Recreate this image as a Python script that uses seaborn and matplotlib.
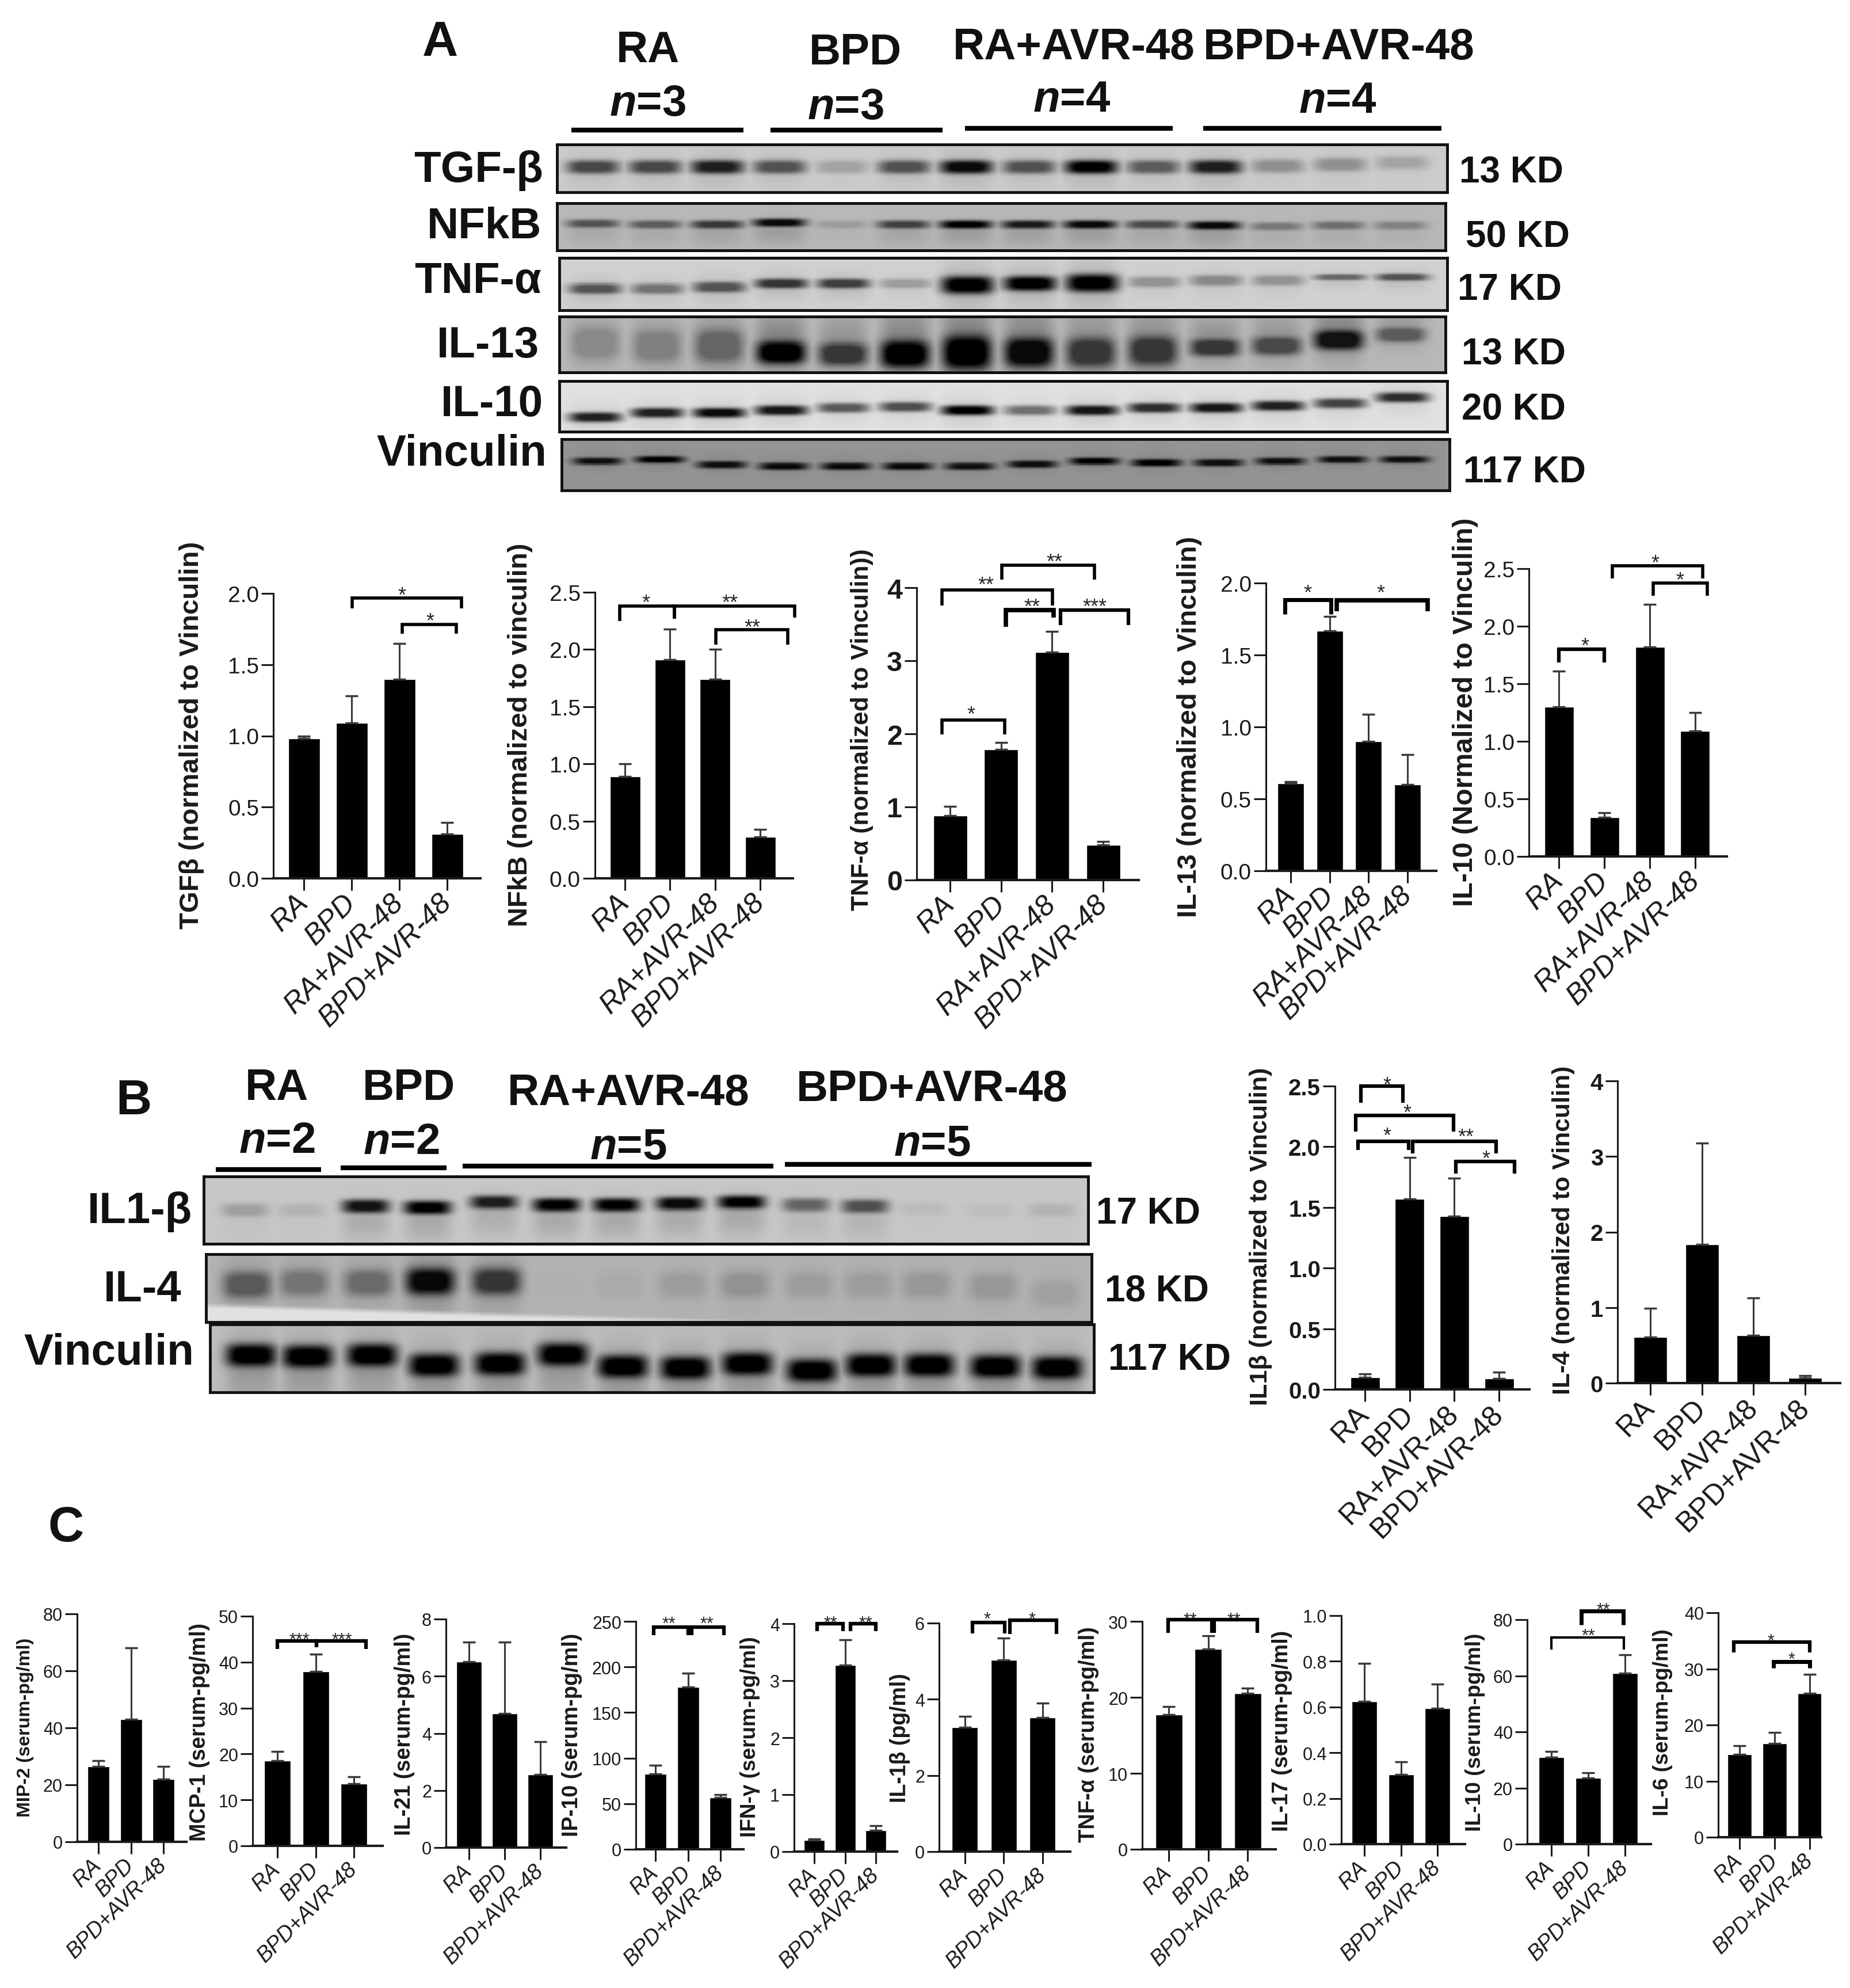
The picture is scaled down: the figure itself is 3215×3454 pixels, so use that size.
import numpy as np
import pandas as pd
import matplotlib
matplotlib.use('Agg')
import matplotlib.pyplot as plt
from matplotlib.transforms import Affine2D
import seaborn as sns

W, H = 3215, 3455

sns.set_style("white")
plt.rcParams['font.family'] = ['Liberation Sans', 'DejaVu Sans']
plt.rcParams['mathtext.fontset'] = 'custom'
plt.rcParams['mathtext.it'] = 'Liberation Sans:italic:bold'

# ---- bar chart data ----
GROUPS4 = ['RA', 'BPD', 'RA+AVR-48', 'BPD+AVR-48']
GROUPS3 = ['RA', 'BPD', 'BPD+AVR-48']

TGFB_MEAN = [0.98, 1.09, 1.40, 0.31]
TGFB_TOP = [1.00, 1.28, 1.65, 0.39]
NFKB_MEAN = [0.89, 1.91, 1.74, 0.36]
NFKB_TOP = [1.00, 2.18, 2.00, 0.43]
TNFA_MEAN = [0.88, 1.79, 3.12, 0.48]
TNFA_TOP = [1.01, 1.88, 3.40, 0.53]
IL13_MEAN = [0.61, 1.67, 0.90, 0.60]
IL13_TOP = [0.62, 1.77, 1.09, 0.81]
IL10_MEAN = [1.30, 0.34, 1.82, 1.09]
IL10_TOP = [1.61, 0.38, 2.19, 1.25]
IL1B_MEAN = [0.10, 1.57, 1.43, 0.09]
IL1B_TOP = [0.13, 1.91, 1.74, 0.14]
IL4_MEAN = [0.61, 1.84, 0.63, 0.07]
IL4_TOP = [0.99, 3.18, 1.13, 0.10]

MIP2_MEAN = [26.5, 43, 22]
MIP2_TOP = [28.5, 68, 26.5]
MCP1_MEAN = [18.5, 38, 13.5]
MCP1_TOP = [20.5, 41.7, 15]
IL21_MEAN = [6.5, 4.7, 2.55]
IL21_TOP = [7.2, 7.2, 3.7]
IP10_MEAN = [83, 178, 57]
IP10_TOP = [92, 193, 60]
IFNG_MEAN = [0.2, 3.27, 0.37]
IFNG_TOP = [0.22, 3.72, 0.45]
SIL1B_MEAN = [3.27, 5.03, 3.52]
SIL1B_TOP = [3.55, 5.6, 3.9]
STNF_MEAN = [17.7, 26.4, 20.5]
STNF_TOP = [18.8, 28.1, 21.2]
IL17_MEAN = [0.625, 0.305, 0.595]
IL17_TOP = [0.79, 0.36, 0.70]
SIL10_MEAN = [31, 23.5, 61]
SIL10_TOP = [33, 25.5, 67.5]
IL6_MEAN = [14.8, 16.7, 25.6]
IL6_TOP = [16.3, 18.7, 29]

# ---- blot band strengths and vertical band position per lane ----
A_TGF = [.65, .65, .85, .6, .2, .6, .95, .6, 1, .55, .85, .3, .3, .2]
A_TGF_Y = [.47, .47, .47, .47, .47, .47, .47, .47, .47, .47, .47, .45, .42, .38]
A_NFKB = [.55, .5, .7, .95, .15, .65, 1, .85, .95, .6, .95, .35, .4, .3]
A_NFKB_Y = [.43, .45, .45, .41, .45, .45, .45, .45, .45, .45, .47, .49, .47, .47]
A_TNF = [.6, .45, .6, .75, .7, .25, 1, 1, 1, .3, .35, .3, .5, .6]
A_TNF_Y = [.59, .59, .56, .49, .49, .49, .52, .49, .48, .46, .43, .43, .37, .37]
A_TNF_H = [.1, .1, .1, .09, .09, .09, .17, .14, .17, .1, .1, .1, .06, .07]
A_IL13 = [.25, .3, .45, 1, .7, 1, 1, .95, .7, .7, .7, .6, .9, .5]
A_IL13_Y = [.48, .53, .53, .65, .68, .68, .65, .65, .65, .62, .56, .53, .42, .33]
A_IL13_H = [.3, .3, .3, .2, .2, .24, .3, .26, .26, .26, .15, .16, .17, .13]
A_IL10 = [.85, .85, .95, .9, .6, .65, 1, .5, .9, .8, .9, .85, .7, .8]
A_IL10_Y = [.72, .63, .63, .58, .53, .51, .58, .58, .58, .53, .53, .49, .44, .32]
A_VINC = [.9, 1, .9, .95, .95, .95, .9, .9, 1, 1, .9, .9, .9, .9]
A_VINC_Y = [.43, .40, .50, .53, .53, .53, .53, .49, .43, .46, .46, .43, .40, .40]

B_IL1B = [.2, .1, .9, 1, .85, 1, 1, .95, 1, .5, .6, .06, .05, .1]
B_IL1B_Y = [.5, .5, .44, .46, .38, .42, .42, .40, .38, .42, .44, .48, .5, .5]
B_IL4 = [.5, .35, .4, .95, .7, .02, .05, .12, .18, .12, .12, .15, .15, .1]
B_IL4_Y = [.45, .42, .42, .40, .40, .45, .45, .45, .45, .45, .45, .45, .48, .58]
B_VINC = [1, 1, 1, 1, 1, 1, 1, 1, 1, 1, 1, 1, 1, 1]
B_VINC_Y = [.45, .47, .45, .60, .58, .44, .62, .64, .58, .68, .60, .60, .62, .64]

A_LANES = [.04, .11, .18, .25, .32, .39, .46, .53, .60, .67, .74, .81, .88, .95]
B_LANES = [.046, .11, .183, .253, .328, .399, .467, .538, .608, .681, .748, .814, .889, .959]

# pixel coordinates of the reference -> figure
fig = plt.figure(figsize=(W / 100, H / 100), dpi=100)
px = Affine2D().scale(1 / W, -1 / H).translate(0, 1) + fig.transFigure

fit_labels = []


def bar_panel(cats, means, tops, box, centers, barw, yticks, yfmt, ylabel, lab_xy, lab_len,
              brackets=(), ytick_fs=28, xtick_fs=36, italic=True, ybold=False, star_fs=26):
    """One GraphPad style bar chart. box = left, right, y of zero, y of the top tick in px."""
    left, right, y0, ytop = box
    ax = fig.add_axes([left / W, 1 - y0 / H, (right - left) / W, (y0 - ytop) / H])
    ax.patch.set_alpha(0)
    step = (centers[1] - centers[0]) / (len(cats) - 1)
    df = pd.DataFrame({'group': cats, 'value': means})
    sns.barplot(data=df, x='group', y='value', color='black', saturation=1, width=barw / step,
                errorbar=None, ax=ax)
    up = np.array(tops) - np.array(means)
    ax.errorbar(range(len(cats)), means, yerr=[np.zeros(len(cats)), up], fmt='none',
                ecolor='#3a3a3a', elinewidth=2.2, capsize=8, capthick=2.5, zorder=1)
    ax.set_xlim((left - centers[0]) / step, (right - centers[0]) / step)
    ax.set_ylim(yticks[0], yticks[-1])
    sns.despine(ax=ax)
    ax.spines['left'].set_linewidth(2.2)
    ax.spines['bottom'].set_linewidth(3)
    ax.spines['left'].set_color('#1a1a1a')
    ax.spines['bottom'].set_color('#1a1a1a')
    ax.set_yticks(yticks)
    ax.set_yticklabels([yfmt % t for t in yticks], fontsize=ytick_fs,
                       fontweight='bold' if ybold else 'normal')
    ax.tick_params(axis='y', length=15, width=2.2, pad=3, left=True, colors='#1a1a1a')
    ax.tick_params(axis='x', length=15, width=2.2, pad=10, bottom=True, colors='#1a1a1a')
    ax.set_xlabel('')
    ax.set_xticks(range(len(cats)))
    ax.set_xticklabels(cats, fontsize=xtick_fs, rotation=45, ha='right', va='center',
                       rotation_mode='anchor', style='italic' if italic else 'normal')
    ax.set_ylabel(ylabel, fontweight='bold', fontsize=28, color='#1a1a1a')
    ax.yaxis.set_label_coords(lab_xy[0], lab_xy[1], transform=px)
    ax.yaxis.label.set_va('center')
    fit_labels.append((ax.yaxis.label, lab_len))
    for x1, x2, y, dl, dr, lw, star, sx, sy in brackets:
        ax.plot([x1, x1, x2, x2], [y - dl, y, y, y - dr], color='black', lw=lw, clip_on=False,
                solid_joinstyle='miter', solid_capstyle='butt')
        ax.annotate(star, (sx, sy), xytext=(0, 4), textcoords='offset points', ha='center', va='top',
                    fontsize=star_fs, annotation_clip=False)
    return ax


def blot(box, bands, ys, lanes, bg, hw, h, smear=0.0, shift=0.0, wedge=None):
    """Western blot strip: grey field with one dark band per lane."""
    left, right, top, bottom = box
    ax = fig.add_axes([left / W, 1 - bottom / H, (right - left) / W, (bottom - top) / H])
    nx, ny = (right - left) // 2, (bottom - top) // 2
    xx, yy = np.meshgrid(np.linspace(0, 1, nx), np.linspace(0, 1, ny))
    dark = np.zeros_like(xx)
    hs = np.broadcast_to(h, len(bands))
    for cx, b, cy, s in zip(lanes, bands, ys, hs):
        across = np.exp(-np.abs((xx - cx) / hw) ** 4)
        band = across * np.exp(-np.abs((yy - cy) / s) ** 3)
        tail = across * np.exp(-((yy - cy - shift) / (s * 3)) ** 2)
        dark = np.maximum(dark, b * np.clip(band + smear * tail, 0, 1))
    img = bg * (1 - np.clip(dark, 0, 1))
    if wedge is not None:
        x_end, y_start = wedge
        line = y_start + (1 - y_start) * np.clip(xx / x_end, 0, 1)
        soft = np.clip((yy - line) / 0.08, 0, 1)
        img = img + soft * (0.88 - img)
    sns.heatmap(img, cmap='gray', vmin=0, vmax=1, cbar=False, xticklabels=False, yticklabels=False,
                ax=ax, rasterized=True)
    for s in ax.spines.values():
        s.set_visible(True)
        s.set_linewidth(3.5)
        s.set_color('#111111')
    return ax


# ---- header labels on a full page layer ----
page = fig.add_axes([0, 0, 1, 1])
page.set_xlim(0, W)
page.set_ylim(H, 0)
page.axis('off')


def label(x, y, s, size=55, ha='center', **kw):
    page.text(x, y + 5, s, fontsize=size, fontweight='bold', ha=ha, va='center', color='#111111', **kw)


for x, y, s in [(765, 70, 'A'), (232, 1909, 'B'), (115, 2651, 'C')]:
    label(x, y, s, size=62)

for x, y, s in [(1126, 84, 'RA'), (1487, 88, 'BPD'), (1866, 79, 'RA+AVR-48'), (2327, 79, 'BPD+AVR-48'),
                (481, 1887, 'RA'), (711, 1887, 'BPD'), (1092, 1896, 'RA+AVR-48'), (1620, 1889, 'BPD+AVR-48')]:
    label(x, y, s)
for x, y, s in [(1126, 176, '3'), (1470, 183, '3'), (1863, 170, '4'), (2325, 172, '4'),
                (481, 1979, '2'), (697, 1981, '2'), (1092, 1990, '5'), (1620, 1984, '5')]:
    label(x, y, r'$\mathit{n}$=' + s)
for x1, x2, y in [(993, 1292, 227), (1339, 1638, 227), (1677, 2038, 224), (2091, 2505, 224),
                  (375, 558, 2033), (592, 776, 2030), (804, 1344, 2027), (1364, 1897, 2024)]:
    page.plot([x1, x2], [y, y], color='black', lw=6, solid_capstyle='butt')

for x, y, s in [(944, 292, 'TGF-β'), (941, 390, 'NFkB'), (941, 484, 'TNF-α'), (937, 597, 'IL-13'),
                (944, 698, 'IL-10'), (950, 785, 'Vinculin'),
                (334, 2101, 'IL1-β'), (316, 2237, 'IL-4'), (337, 2347, 'Vinculin')]:
    label(x, y, s, ha='right')
for x, y, s in [(2536, 295, '13 KD'), (2547, 407, '50 KD'), (2533, 499, '17 KD'), (2540, 611, '13 KD'),
                (2540, 708, '20 KD'), (2543, 816, '117 KD'),
                (1905, 2104, '17 KD'), (1920, 2240, '18 KD'), (1926, 2358, '117 KD')]:
    label(x, y, s, size=46, ha='left')

# ---- blots, panel A ----
blot((968, 2515, 252, 335), A_TGF, A_TGF_Y, A_LANES, .80, .03, .14, smear=.12, shift=.05)
blot((968, 2512, 354, 436), A_NFKB, A_NFKB_Y, A_LANES, .72, .03, .09, smear=.15, shift=.2)
blot((972, 2515, 449, 540), A_TNF, A_TNF_Y, A_LANES, .82, .03, A_TNF_H, smear=.15, shift=.05)
blot((972, 2512, 551, 648), A_IL13, A_IL13_Y, A_LANES, .72, .028, A_IL13_H, smear=.3, shift=-.15)
blot((972, 2515, 663, 751), A_IL10, A_IL10_Y, A_LANES, .88, .03, .1, smear=.1, shift=.03)
blot((976, 2519, 764, 853), A_VINC, A_VINC_Y, A_LANES, .58, .028, .07, smear=.08, shift=0)

# ---- blots, panel B ----
blot((354, 1891, 2045, 2162), B_IL1B, B_IL1B_Y, B_LANES, .78, .027, .1, smear=.15, shift=.22)
blot((358, 1897, 2180, 2298), B_IL4, B_IL4_Y, B_LANES, .70, .028, .2, smear=.2, shift=0, wedge=(.68, .72))
blot((365, 1901, 2302, 2420), B_VINC, B_VINC_Y, B_LANES, .74, .029, .17, smear=.2, shift=.2)

# ---- bar charts, panel A ----
bar_panel(GROUPS4, TGFB_MEAN, TGFB_TOP, (475, 835, 1527, 1032), (528, 777), 55,
          [0, .5, 1, 1.5, 2], '%.1f', 'TGFβ (normalized to Vinculin)', (333, 1277), 672,
          [(1.01, 3.30, 1.967, .074, .074, 4, '*', 2.05, 2.03),
           (2.06, 3.19, 1.783, .066, .066, 4, '*', 2.64, 1.847)])
bar_panel(GROUPS4, NFKB_MEAN, NFKB_TOP, (1034, 1378, 1527, 1030), (1086, 1321), 53,
          [0, .5, 1, 1.5, 2, 2.5], '%.1f', 'NFkB (normalized to vinculin)', (904, 1277), 668,
          [(-.12, 1.1, 2.377, .131, .11, 4, '*', .46, 2.46),
           (1.1, 3.76, 2.377, .11, .1, 4, '**', 2.33, 2.46),
           (2.02, 3.61, 2.173, .13, .13, 4, '**', 2.82, 2.246)])
bar_panel(GROUPS4, TNFA_MEAN, TNFA_TOP, (1593, 1979, 1530, 1022), (1651, 1917), 59,
          [0, 1, 2, 3, 4], '%d', 'TNF-α (normalized to Vinculin))', (1498, 1268), 628,
          [(-.16, 1.07, 2.19, .2, .2, 4, '*', .41, 2.35),
           (-.16, 2.01, 3.966, .21, .21, 4, '**', .70, 4.12),
           (1.01, 2.83, 4.31, .2, .2, 4, '**', 2.05, 4.44),
           (1.09, 2.03, 3.69, .226, .1, 5.5, '**', 1.61, 3.82),
           (2.16, 3.5, 3.69, .2, .2, 4.5, '***', 2.83, 3.82)],
          ytick_fs=35, ybold=True)
bar_panel(GROUPS4, IL13_MEAN, IL13_TOP, (2200, 2496, 1514, 1014), (2243, 2446), 46,
          [0, .5, 1, 1.5, 2], '%.1f', 'IL-13 (normalized to Vinculin)', (2067, 1263), 661,
          [(-.15, 1.03, 1.885, .1, .1, 5, '*', .44, 1.974),
           (1.18, 3.51, 1.881, .076, .076, 5.5, '*', 2.31, 1.974)])
bar_panel(GROUPS4, IL10_MEAN, IL10_TOP, (2657, 3001, 1489, 989), (2709, 2946), 51,
          [0, .5, 1, 1.5, 2, 2.5], '%.1f', 'IL-10 (Normalized to Vinculin)', (2547, 1237), 675,
          [(0, 1.0, 1.80, .117, .117, 4.5, '*', .57, 1.88),
           (1.18, 3.16, 2.527, .114, .114, 4, '*', 2.12, 2.60),
           (2.08, 3.27, 2.373, .11, .11, 4, '*', 2.66, 2.45)])

# ---- bar charts, panel B ----
bar_panel(GROUPS4, IL1B_MEAN, IL1B_TOP, (2320, 2658, 2415, 1888), (2372, 2605), 51,
          [0, .5, 1, 1.5, 2, 2.5], '%.1f', 'IL1β (normalized to Vinculin)', (2191, 2148), 588,
          [(-.09, .845, 2.5, .136, .136, 4.5, '*', .49, 2.56),
           (-.2, 1.98, 2.26, .136, .136, 4.5, '*', .94, 2.33),
           (-.155, .98, 2.045, .07, .07, 4.5, '*', .49, 2.14),
           (1.07, 2.94, 2.045, .1, .1, 4.5, '**', 2.26, 2.13),
           (2.03, 3.35, 1.88, .1, .1, 4.5, '*', 2.71, 1.95)],
          ytick_fs=29, xtick_fs=36, italic=False, ybold=True)
bar_panel(GROUPS4, IL4_MEAN, IL4_TOP, (2811, 3198, 2404, 1879), (2868, 3137), 58,
          [0, 1, 2, 3, 4], '%d', 'IL-4 (normalized to Vinculin)', (2717, 2137), 571,
          ytick_fs=29, xtick_fs=36, italic=False, ybold=True)

# ---- bar charts, panel C ----
kw_c = dict(ytick_fs=22, xtick_fs=27, star_fs=22)
bar_panel(GROUPS3, MIP2_MEAN, MIP2_TOP, (134, 324, 3201, 2805), (171, 284), 38,
          [0, 20, 40, 60, 80], '%d', 'MIP-2 (serum-pg/ml)', (44, 3001), 311, **kw_c)
bar_panel(GROUPS3, MCP1_MEAN, MCP1_TOP, (439, 665, 3208, 2809), (482, 615), 46,
          [0, 10, 20, 30, 40, 50], '%d', 'MCP-1 (serum-pg/ml)', (347, 3009), 379,
          [(0, 1.02, 44.6, 1.8, 1.4, 4.5, '***', .58, 45.9),
           (1.02, 2.31, 44.6, 1.4, 1.8, 4.5, '***', 1.69, 45.9)], **kw_c)
bar_panel(GROUPS3, IL21_MEAN, IL21_TOP, (775, 984, 3211, 2814), (815, 939), 44,
          [0, 2, 4, 6, 8], '%d', 'IL-21 (serum-pg/ml)', (703, 3013), 351, **kw_c)
bar_panel(GROUPS3, IP10_MEAN, IP10_TOP, (1105, 1292, 3214, 2818), (1139, 1252), 38,
          [0, 50, 100, 150, 200, 250], '%d', 'IP-10 (serum-pg/ml)', (994, 3014), 353,
          [(-.06, 1.0, 244, 9.4, 9.4, 4.5, '**', .41, 253),
           (1.11, 2.11, 244, 9.4, 9.4, 4.5, '**', 1.59, 253)], **kw_c)
bar_panel(GROUPS3, IFNG_MEAN, IFNG_TOP, (1380, 1559, 3218, 2822), (1415, 1522), 36,
          [0, 1, 2, 3, 4], '%d', 'IFN-γ (serum-pg/ml)', (1304, 3018), 348,
          [(.1, .94, 4.0, .127, .127, 4.5, '**', .53, 4.1),
           (1.18, 2.0, 4.0, .127, .127, 4.5, '**', 1.67, 4.1)], **kw_c)
bar_panel(GROUPS3, SIL1B_MEAN, SIL1B_TOP, (1632, 1860, 3218, 2821), (1677, 1812), 45,
          [0, 2, 4, 6], '%d', 'IL-1β (pg/ml)', (1564, 3020), 225,
          [(.2, 1.02, 6.02, .29, .29, 4.5, '*', .57, 6.24),
           (1.15, 2.36, 6.07, .35, .35, 4.5, '*', 1.73, 6.24)], **kw_c)
bar_panel(GROUPS3, STNF_MEAN, STNF_TOP, (1985, 2217, 3214, 2818), (2031, 2168), 47,
          [0, 10, 20, 30], '%d', 'TNF-α (serum-pg/ml)', (1892, 3014), 375,
          [(-.02, 1.09, 30.2, 1.7, 1.7, 4.5, '**', .54, 30.9),
           (1.15, 2.25, 30.2, 1.7, 1.7, 4.5, '**', 1.66, 30.9)], **kw_c)
bar_panel(GROUPS3, IL17_MEAN, IL17_TOP, (2331, 2546, 3205, 2808), (2371, 2498), 44,
          [0, .2, .4, .6, .8, 1], '%.1f', 'IL-17 (serum-pg/ml)', (2228, 3007), 349, **kw_c)
bar_panel(GROUPS3, SIL10_MEAN, SIL10_TOP, (2654, 2869, 3205, 2815), (2696, 2824), 44,
          [0, 20, 40, 60, 80], '%d', 'IL-10 (serum-pg/ml)', (2564, 3010), 344,
          [(0, 1.97, 73.7, 4.3, 4.3, 3, '**', 1.01, 76),
           (.81, 1.95, 83, 4.8, 4.8, 5, '**', 1.42, 85.2)], **kw_c)
bar_panel(GROUPS3, IL6_MEAN, IL6_TOP, (2986, 3165, 3193, 2803), (3023, 3145), 42,
          [0, 10, 20, 30, 40], '%d', 'IL-6 (serum-pg/ml)', (2890, 2993), 324,
          [(-.16, 2.0, 34.8, 1.9, 1.9, 4.5, '*', .89, 35.9),
           (.96, 2.0, 31.3, 1.1, 1.1, 5, '*', 1.48, 32.6)], **kw_c)

# size the y titles to the length they have in the figure
renderer = fig.canvas.get_renderer()
for lab, length in fit_labels:
    ext = lab.get_window_extent(renderer)
    lab.set_fontsize(lab.get_fontsize() * length / ext.height)

fig.savefig('out.png', dpi=100, facecolor='white')
